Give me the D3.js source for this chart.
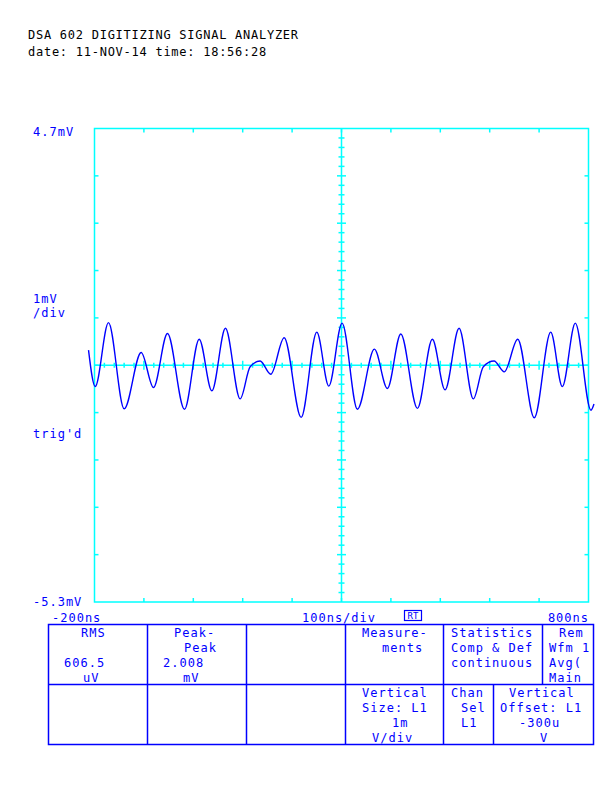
<!DOCTYPE html>
<html><head><meta charset="utf-8">
<script src="https://cdn.jsdelivr.net/npm/d3@7"></script>
<style>body{margin:0;background:#fff}svg{display:block}</style>
</head><body>
<script>
// ---- data ----
const timeNs = [-212.1,-198.6,-171.7,-139.9,-105.5,-80.6,-52.3,-17.9,11.9,37.6,65.1,94.8,115.1,135.3,156.9,183.9,218.3,250.0,274.3,301.2,332.2,366.6,392.9,420.0,453.6,483.9,509.6,538.0,566.9,587.1,608.8,629.6,656.7,690.3,723.5,747.0,773.3,805.0,811.1];
const voltageMv = [0.02,-0.75,0.60,-1.22,-0.03,-0.77,0.37,-1.23,0.25,-0.84,0.48,-1.01,-0.33,-0.21,-0.49,0.28,-1.40,0.40,-0.74,0.59,-1.23,0.04,-0.79,0.36,-1.21,0.25,-0.82,0.48,-1.01,-0.33,-0.21,-0.44,0.25,-1.41,0.40,-0.75,0.59,-1.25,-1.12];
const xDomain = [-200, 800];
const yDomain = [-5.3, 4.7];
const xDivNs = 100;
const yDivMv = 1;
const headerLines = ["DSA 602 DIGITIZING SIGNAL ANALYZER", "date: 11-NOV-14 time: 18:56:28"];
const yTopLabel = "4.7mV", yBottomLabel = "-5.3mV";
const scaleLabels = ["1mV", "/div"];
const trigLabel = "trig'd";
const xLeftLabel = "-200ns", xMidLabel = "100ns/div", xRightLabel = "800ns";
const topRowCells = [
  ["RMS", "", "606.5", "uV"],
  ["Peak-", "Peak", "2.008", "mV"],
  [],
  ["Measure-", "ments"],
  ["Statistics", "Comp & Def", "continuous"],
  ["Rem", "Wfm 1", "Avg(", "Main"]
];
const bottomRowCells = [
  [], [], [],
  ["Vertical", "Size: L1", "1m", "V/div"],
  ["Chan", "Sel", "L1"],
  ["Vertical", "Offset: L1", "-300u", "V"]
];

// ---- drawing ----
const W = 600, H = 800;
const CY = "#00ffff", BL = "#0000ff";
const svg = d3.select("body").append("svg").attr("width", W).attr("height", H);
svg.append("rect").attr("width", W).attr("height", H).attr("fill", "#fff");

const x = d3.scaleLinear().domain(xDomain).range([94.5, 588.5]);
const y = d3.scaleLinear().domain(yDomain).range([602, 128.5]);

const font = "'DejaVu Sans Mono', monospace";
function txt(s, tx, ty, color, anchor) {
  return svg.append("text").attr("x", tx).attr("y", ty).text(s)
    .attr("font-family", font).attr("font-size", 12).attr("letter-spacing", 1.0)
    .attr("fill", color || BL).attr("text-anchor", anchor || "start");
}

// header
txt(headerLines[0], 28, 39, "#000").attr("letter-spacing", 0.74);
txt(headerLines[1], 28, 56, "#000").attr("letter-spacing", 0.74);

// graticule
const g = svg.append("g").attr("stroke", CY).attr("stroke-width", 1.5).attr("fill", "none");
g.append("rect").attr("x", x(xDomain[0])).attr("y", y(yDomain[1]))
  .attr("width", x(xDomain[1]) - x(xDomain[0])).attr("height", y(yDomain[0]) - y(yDomain[1]));
const xc = (xDomain[0] + xDomain[1]) / 2, yc = (yDomain[0] + yDomain[1]) / 2;
g.append("line").attr("x1", x(xc)).attr("x2", x(xc)).attr("y1", y(yDomain[1])).attr("y2", y(yDomain[0]));
g.append("line").attr("x1", x(xDomain[0])).attr("x2", x(xDomain[1])).attr("y1", y(yc)).attr("y2", y(yc));

const xMajor = d3.range(xDomain[0] + xDivNs, xDomain[1] - 1, xDivNs);
const yMajor = d3.range(yDomain[0] + yDivMv, yDomain[1] - 0.01, yDivMv);
const xMinor = d3.range(xDomain[0] + xDivNs / 5, xDomain[1] - 1, xDivNs / 5);
const yMinor = d3.range(yDomain[0] + yDivMv / 5, yDomain[1] - 0.01, yDivMv / 5);
const TL = 4;
xMajor.forEach(t => {
  g.append("line").attr("x1", x(t)).attr("x2", x(t)).attr("y1", y(yDomain[1])).attr("y2", y(yDomain[1]) + TL);
  g.append("line").attr("x1", x(t)).attr("x2", x(t)).attr("y1", y(yDomain[0])).attr("y2", y(yDomain[0]) - TL);
});
yMajor.forEach(v => {
  g.append("line").attr("y1", y(v)).attr("y2", y(v)).attr("x1", x(xDomain[0])).attr("x2", x(xDomain[0]) + TL);
  g.append("line").attr("y1", y(v)).attr("y2", y(v)).attr("x1", x(xDomain[1])).attr("x2", x(xDomain[1]) - TL);
});
xMinor.forEach((t, i) => {
  const L = ((i + 1) % 5 === 0) ? 4.5 : 2.5;
  g.append("line").attr("x1", x(t)).attr("x2", x(t)).attr("y1", y(yc) - L).attr("y2", y(yc) + L);
});
yMinor.forEach((v, i) => {
  const L = ((i + 1) % 5 === 0) ? 4.5 : 3;
  g.append("line").attr("y1", y(v)).attr("y2", y(v)).attr("x1", x(xc) - L).attr("x2", x(xc) + L);
});

// waveform
const pts = timeNs.map((t, i) => [t, voltageMv[i]]);
svg.append("path").datum(pts)
  .attr("d", d3.line().x(d => x(d[0])).y(d => y(d[1])).curve(d3.curveMonotoneX))
  .attr("fill", "none").attr("stroke", BL).attr("stroke-width", 1.4);

// side labels
txt(yTopLabel, 33, 136);
txt(scaleLabels[0], 33, 303);
txt(scaleLabels[1], 33, 317);
txt(trigLabel, 33, 438);
txt(yBottomLabel, 33, 606);
txt(xLeftLabel, 52, 622);
txt(xMidLabel, 302, 622);
txt(xRightLabel, 589, 622, BL, "end");
// RT box
svg.append("rect").attr("x", 404.5).attr("y", 610.5).attr("width", 17).attr("height", 10)
  .attr("fill", "none").attr("stroke", BL).attr("stroke-width", 1.2);
svg.append("text").attr("x", 413).attr("y", 619).text("RT").attr("font-family", font)
  .attr("font-size", 9).attr("fill", BL).attr("text-anchor", "middle");

// table
const tb = svg.append("g").attr("stroke", BL).attr("stroke-width", 1.5).attr("fill", "none");
const tTop = 624.5, tMid = 684.5, tBot = 744.5, tL = 48.5, tR = 593.5;
const topCols = [tL, 147.5, 246.5, 345.5, 443.5, 542.5, tR];
const botCols = [tL, 147.5, 246.5, 345.5, 443.5, 493.5, tR];
tb.append("rect").attr("x", tL).attr("y", tTop).attr("width", tR - tL).attr("height", tBot - tTop);
tb.append("line").attr("x1", tL).attr("x2", tR).attr("y1", tMid).attr("y2", tMid);
topCols.slice(1, -1).forEach(c => tb.append("line").attr("x1", c).attr("x2", c).attr("y1", tTop).attr("y2", tMid));
botCols.slice(1, -1).forEach(c => tb.append("line").attr("x1", c).attr("x2", c).attr("y1", tMid).attr("y2", tBot));

// cell text positions (start x per line)
const topX = [[81, 0, 64, 83], [174, 184, 163, 183], [], [362, 382], [451, 451, 451], [559, 549, 549, 549]];
const botX = [[], [], [], [362, 362, 392, 372], [451, 461, 461], [509, 500, 519, 540]];
topRowCells.forEach((cell, ci) => cell.forEach((s, li) => { if (s) txt(s, topX[ci][li], 637 + li * 15); }));
bottomRowCells.forEach((cell, ci) => cell.forEach((s, li) => { if (s) txt(s, botX[ci][li], 697 + li * 15); }));
</script>
</body></html>
